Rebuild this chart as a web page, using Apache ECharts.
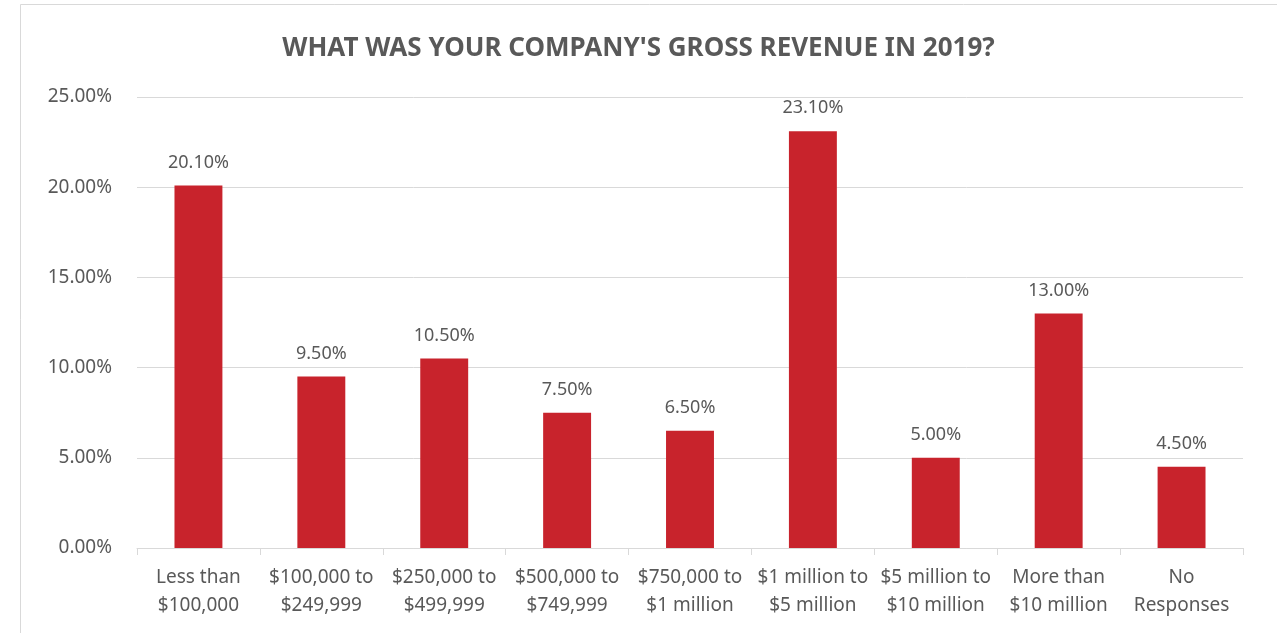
<!DOCTYPE html>
<html>
<head>
<meta charset="utf-8">
<script src="https://cdn.jsdelivr.net/npm/echarts@6/dist/echarts.min.js"></script>
<style>
  html, body { margin: 0; padding: 0; background: #fff; }
  #main { width: 1277px; height: 633px; }
</style>
</head>
<body>
<div id="main"></div>
<script>
var categories = ['Less than\n$100,000', '$100,000 to\n$249,999', '$250,000 to\n$499,999',
  '$500,000 to\n$749,999', '$750,000 to\n$1 million', '$1 million to\n$5 million',
  '$5 million to\n$10 million', 'More than\n$10 million', 'No\nResponses'];
var shares = [20.1, 9.5, 10.5, 7.5, 6.5, 23.1, 5.0, 13.0, 4.5];
var yTicks = [0, 5, 10, 15, 20, 25];

var chart = echarts.init(document.getElementById('main'));
var font = '"Noto Sans", "Open Sans", sans-serif';

var option = {
  animation: false,
  backgroundColor: '#fff',
  textStyle: { fontFamily: font },
  graphic: [{
    type: 'rect',
    shape: { x: 20.5, y: 4.5, width: 1300, height: 700 },
    style: { fill: 'none', stroke: '#d9d9d9', lineWidth: 1 }
  }],
  title: {
    text: "WHAT WAS YOUR COMPANY'S GROSS REVENUE IN 2019?",
    left: 'center',
    top: 31,
    textStyle: { fontFamily: font, fontSize: 26, fontWeight: 'bold', color: '#595959' }
  },
  grid: { left: 137, right: 34, top: 97, bottom: 85 },
  xAxis: {
    type: 'category',
    data: categories,
    axisLine: { lineStyle: { color: '#d9d9d9' } },
    axisTick: { show: true, length: 7, lineStyle: { color: '#d9d9d9' } },
    axisLabel: { color: '#595959', fontSize: 19, lineHeight: 28, margin: 16, interval: 0 }
  },
  yAxis: {
    type: 'value',
    min: yTicks[0],
    max: yTicks[yTicks.length - 1],
    interval: 5,
    axisLine: { show: false },
    axisTick: { show: false },
    splitLine: { lineStyle: { color: '#d9d9d9' } },
    axisLabel: {
      color: '#595959', fontSize: 19, margin: 25,
      formatter: function (v) { return v.toFixed(2) + '%'; }
    }
  },
  series: [{
    type: 'bar',
    data: shares,
    barWidth: '39%',
    itemStyle: { color: '#c8232c' },
    label: {
      show: true,
      position: 'top',
      distance: 14,
      color: '#595959',
      fontSize: 18,
      formatter: function (p) { return p.value.toFixed(2) + '%'; }
    }
  }]
};

chart.setOption(option);
</script>
</body>
</html>
